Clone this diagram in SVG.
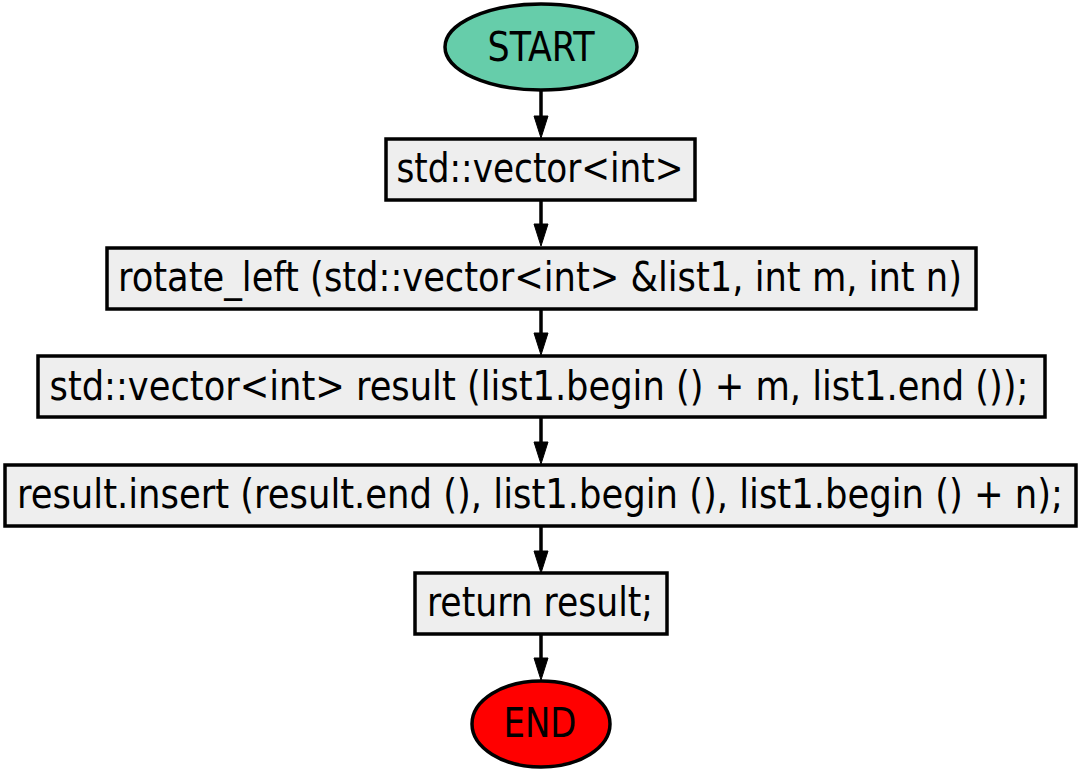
<svg xmlns="http://www.w3.org/2000/svg" width="1083" height="774" viewBox="0 0 1083 774">
<style>
  .box { fill: #eeeeee; stroke: #000; stroke-width: 3.5; }
  .t { font-family: "DejaVu Sans Condensed", "DejaVu Sans", sans-serif; font-size: 40px; fill: #000; text-anchor: middle; }
  .edge { stroke: #000; stroke-width: 3.5; fill: none; }
  .head { fill: #000; stroke: #000; stroke-width: 1; }
</style>
<rect width="1083" height="774" fill="#fff"/>
<g id="connectors">
  <line class="edge" x1="541" y1="90" x2="541" y2="118"/>
  <polygon class="head" points="534,116 548,116 541,138"/>
  <line class="edge" x1="541" y1="201" x2="541" y2="226"/>
  <polygon class="head" points="534,224 548,224 541,246"/>
  <line class="edge" x1="541" y1="309" x2="541" y2="335"/>
  <polygon class="head" points="534,333 548,333 541,355"/>
  <line class="edge" x1="541" y1="418" x2="541" y2="444"/>
  <polygon class="head" points="534,442 548,442 541,464"/>
  <line class="edge" x1="541" y1="526" x2="541" y2="553"/>
  <polygon class="head" points="534,551 548,551 541,573"/>
  <line class="edge" x1="541" y1="634" x2="541" y2="660"/>
  <polygon class="head" points="534,658 548,658 541,680"/>
</g>
<g id="start">
  <ellipse cx="541" cy="47" rx="96" ry="43" fill="#66cdaa" stroke="#000" stroke-width="3.5"/>
  <text class="t" x="541" y="61" textLength="107" lengthAdjust="spacingAndGlyphs">START</text>
</g>
<g id="n1">
  <rect class="box" x="386" y="139" width="309" height="61"/>
  <text class="t" x="540" y="182" textLength="287" lengthAdjust="spacingAndGlyphs">std::vector&lt;int&gt;</text>
</g>
<g id="n2">
  <rect class="box" x="107" y="248" width="869" height="61"/>
  <text class="t" x="540" y="291" textLength="844" lengthAdjust="spacingAndGlyphs">rotate_left (std::vector&lt;int&gt; &amp;list1, int m, int n)</text>
</g>
<g id="n3">
  <rect class="box" x="38" y="356" width="1007" height="61"/>
  <text class="t" x="539" y="400" textLength="979" lengthAdjust="spacingAndGlyphs">std::vector&lt;int&gt; result (list1.begin () + m, list1.end ());</text>
</g>
<g id="n4">
  <rect class="box" x="5" y="465" width="1071" height="61"/>
  <text class="t" x="540" y="508" textLength="1046" lengthAdjust="spacingAndGlyphs">result.insert (result.end (), list1.begin (), list1.begin () + n);</text>
</g>
<g id="n5">
  <rect class="box" x="415" y="573" width="252" height="61"/>
  <text class="t" x="540" y="616" textLength="226" lengthAdjust="spacingAndGlyphs">return result;</text>
</g>
<g id="end">
  <ellipse cx="541" cy="724" rx="69" ry="43" fill="#ff0000" stroke="#000" stroke-width="3.5"/>
  <text class="t" x="540" y="737" textLength="73" lengthAdjust="spacingAndGlyphs">END</text>
</g>
</svg>
